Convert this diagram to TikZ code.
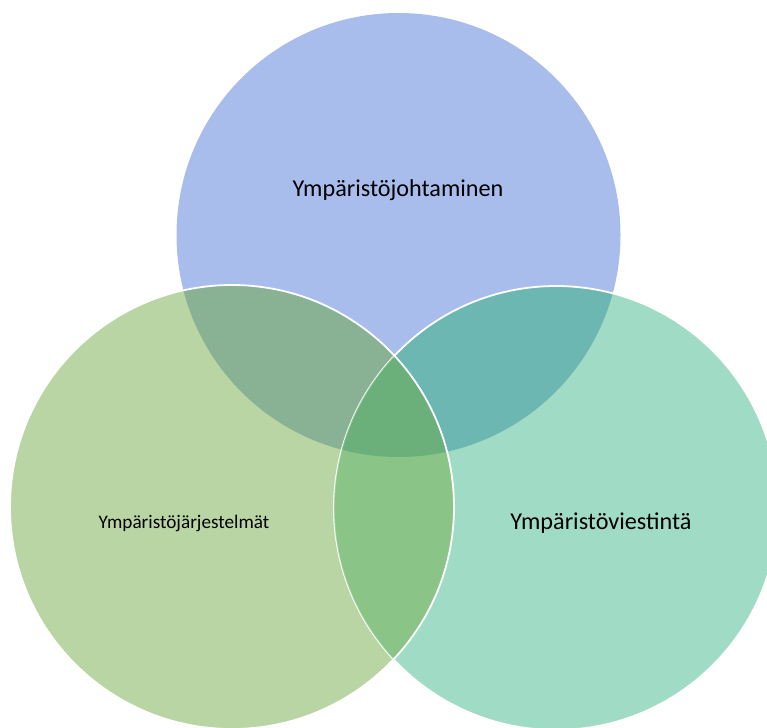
\documentclass[tikz,border=0pt]{standalone}
\usepackage{fontspec}
\setmainfont{Carlito}
\definecolor{cblue}{HTML}{A9BDED}
\definecolor{cteal}{HTML}{A0DCC5}
\definecolor{cgreen}{HTML}{B8D5A3}
\definecolor{cbg}{HTML}{88B293}
\definecolor{cbt}{HTML}{6DB7B3}
\definecolor{cgt}{HTML}{8AC487}
\definecolor{cbgt}{HTML}{6BB07A}
\tikzset{
  lbl/.style={font=\fontsize{24.2}{28}\selectfont, text=black, inner sep=0pt},
  lblsmall/.style={font=\fontsize{19.2}{22}\selectfont, text=black, inner sep=0pt},
  rim/.style={draw=white, line width=1.8pt}
}
\def\blueC{(398.5,235) circle[radius=222pt]}
\def\greenC{(232,507) circle[radius=222pt]}
\def\tealC{(556,508) circle[radius=222pt]}
\begin{document}
\begin{tikzpicture}[x=1pt,y=-1pt]
\useasboundingbox (0,0) rectangle (767,727);
\clip (0,0) rectangle (767,727);
% base fills
\fill[cblue] \blueC;
\fill[cteal] \tealC;
\fill[cgreen] \greenC;
% pairwise with blue
\begin{scope}\clip \blueC; \fill[cbg] \greenC; \end{scope}
\begin{scope}\clip \blueC; \fill[cbt] \tealC; \end{scope}
% teal rim
\draw[rim] \tealC;
% green-teal and triple
\begin{scope}\clip \greenC; \fill[cgt] \tealC; \end{scope}
\begin{scope}\clip \greenC; \clip \tealC; \fill[cbgt] \blueC; \end{scope}
% faint teal rim inside green
\begin{scope}\clip \greenC; \draw[draw=white, draw opacity=0.3, line width=1.4pt] \tealC; \end{scope}
% green rim
\draw[rim] \greenC;
% labels
\node[lbl] (top) at (398,190) {Ympäristöjohtaminen};
\node[lblsmall] (left) at (184,523) {Ympäristöjärjestelmät};
\node[lbl] (right) at (601,523) {Ympäristöviestintä};
\end{tikzpicture}
\end{document}
